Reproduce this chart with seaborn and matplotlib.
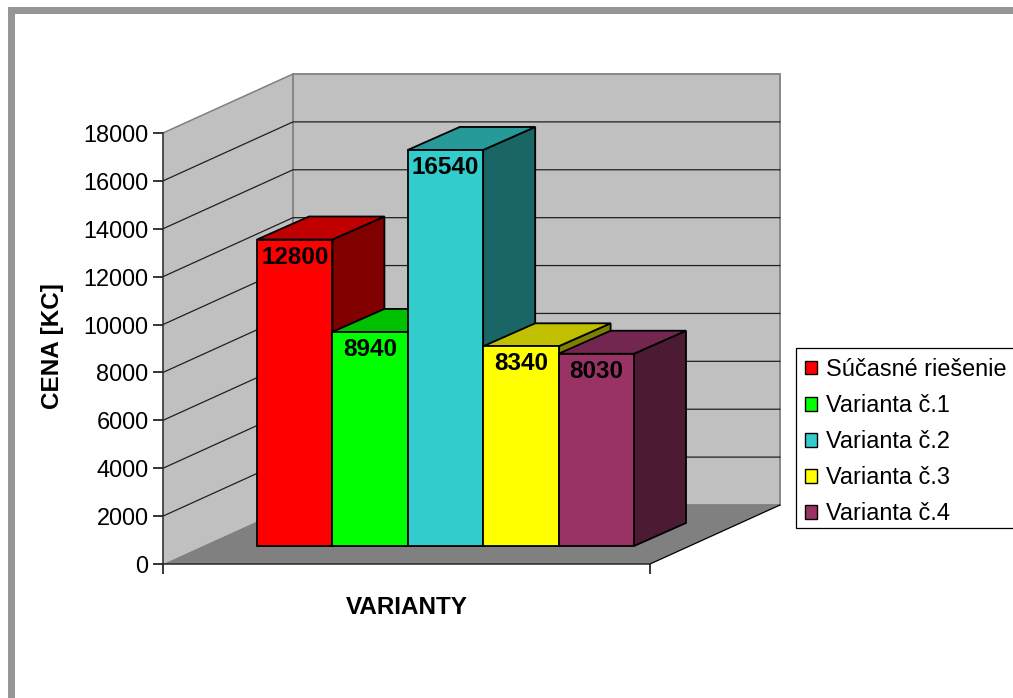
#!/usr/bin/env python3
"""Excel style 3D column chart of the price of each variant, drawn with seaborn."""

import matplotlib
matplotlib.use('Agg')  # Non-interactive backend
import matplotlib.pyplot as plt
from matplotlib.patches import Patch, Polygon, Rectangle
import seaborn as sns

# Data
CATEGORIES = ['Súčasné riešenie', 'Varianta č.1', 'Varianta č.2', 'Varianta č.3', 'Varianta č.4']
PRICES = [12800, 8940, 16540, 8340, 8030]
Y_TICKS = [0, 2000, 4000, 6000, 8000, 10000, 12000, 14000, 16000, 18000]

# Colours per bar: front, top, side
FRONT_COLORS = ['#FF0000', '#00FF00', '#33CCCC', '#FFFF00', '#993366']
TOP_COLORS = ['#C00000', '#00C000', '#269999', '#C0C000', '#732650']
SIDE_COLORS = ['#800000', '#008000', '#1A6666', '#808000', '#4D1A33']

# Layout, in pixels of the 1013x698 picture
W, H = 1013, 698
Y_MAX = 18000
PLANE_LEFT, PLANE_WIDTH, PLANE_BOTTOM, PLANE_HEIGHT = 163, 487, 564, 431
BARS_LEFT, BARS_WIDTH, BARS_BOTTOM = 257, 377, 546
WALL_DX, WALL_DY = 130, 59
BAR_DX, BAR_DY = 52, 23
LABEL_DROP = 17.5
FONT_SIZE = 16.9
BOLD_SIZE = 17.5

sns.set_theme(style='ticks')
plt.rcParams['font.family'] = ['Liberation Sans', 'DejaVu Sans']
plt.rcParams['axes.linewidth'] = 1.1
plt.rcParams['xtick.color'] = 'black'
plt.rcParams['ytick.color'] = 'black'


def draw_walls(ax):
    """Side wall, back wall and floor behind the bars."""
    dx = WALL_DX / PLANE_WIDTH
    dy = WALL_DY / PLANE_HEIGHT * Y_MAX

    ax.add_patch(Polygon([(0, 0), (dx, dy), (dx, Y_MAX + dy), (0, Y_MAX)],
                         facecolor='#C0C0C0', edgecolor='none', clip_on=False))
    ax.add_patch(Polygon([(dx, dy), (1 + dx, dy), (1 + dx, Y_MAX + dy), (dx, Y_MAX + dy)],
                         facecolor='#C0C0C0', edgecolor='#808080', linewidth=1.3, clip_on=False))

    for tick in Y_TICKS[1:-1]:
        ax.plot([0, dx, 1 + dx], [tick, tick + dy, tick + dy], color='#202020',
                linewidth=0.9, clip_on=False)
    ax.plot([0, dx], [Y_MAX, Y_MAX + dy], color='#808080', linewidth=1.1, clip_on=False)

    ax.add_patch(Polygon([(0, 0), (dx, dy), (1 + dx, dy), (1, 0)],
                         facecolor='#808080', edgecolor='none', clip_on=False))
    ax.plot([1, 1 + dx], [0, dy], color='black', linewidth=0.9, clip_on=False)


def draw_bars(ax):
    """Front faces through seaborn, then the top and side face of each bar."""
    sns.barplot(x=CATEGORIES, y=PRICES, hue=CATEGORIES, palette=FRONT_COLORS, width=1,
                saturation=1, dodge=False, legend=False, edgecolor='black', linewidth=1.3, ax=ax)
    ax.set_xlim(-0.5, len(CATEGORIES) - 0.5)
    ax.set_ylim(0, Y_MAX)
    ax.axis('off')

    dx = BAR_DX / (BARS_WIDTH / len(CATEGORIES))
    dy = BAR_DY / PLANE_HEIGHT * Y_MAX
    drop = LABEL_DROP / PLANE_HEIGHT * Y_MAX

    # Left to right, so each bar covers the side of the one before it
    for i, (price, container) in enumerate(zip(PRICES, ax.containers)):
        left, right = i - 0.5, i + 0.5
        side = Polygon([(right, 0), (right, price), (right + dx, price + dy), (right + dx, dy)],
                       facecolor=SIDE_COLORS[i], edgecolor='black', linewidth=1.3,
                       clip_on=False, zorder=3 * i + 2)
        top = Polygon([(left, price), (left + dx, price + dy), (right + dx, price + dy), (right, price)],
                      facecolor=TOP_COLORS[i], edgecolor='black', linewidth=1.3,
                      clip_on=False, zorder=3 * i + 3)
        ax.add_patch(side)
        ax.add_patch(top)
        for bar in container:
            bar.set_zorder(3 * i + 4)
            bar.set_clip_on(False)
        ax.text(i, price - drop, str(price), ha='center', va='center', color='black',
                fontsize=BOLD_SIZE, fontweight='bold', zorder=50)


def main():
    fig = plt.figure(figsize=(W / 100, H / 100), dpi=100, facecolor='white')

    # Gray frame of the sheet, open on the right and at the bottom
    fig.add_artist(Rectangle((8 / W, 0), 7 / W, 1 - 7 / H, transform=fig.transFigure,
                             facecolor='#969696', edgecolor='none'))
    fig.add_artist(Rectangle((8 / W, 1 - 14 / H), 1, 7 / H, transform=fig.transFigure,
                             facecolor='#969696', edgecolor='none'))

    ax_wall = fig.add_axes([PLANE_LEFT / W, 1 - PLANE_BOTTOM / H, PLANE_WIDTH / W, PLANE_HEIGHT / H])
    ax_wall.set_facecolor('none')
    ax_wall.set_xlim(0, 1)
    ax_wall.set_ylim(0, Y_MAX)
    draw_walls(ax_wall)
    sns.despine(ax=ax_wall)
    ax_wall.set_xticks([0, 1])
    ax_wall.set_xticklabels([])
    ax_wall.set_yticks(Y_TICKS)
    ax_wall.tick_params(axis='both', length=7, width=1.1, labelsize=FONT_SIZE, pad=3.5)
    ax_wall.set_ylabel('CENA [KC]', fontsize=BOLD_SIZE, fontweight='bold', color='black', labelpad=0)
    ax_wall.yaxis.set_label_coords((64 - PLANE_LEFT) / PLANE_WIDTH, 0.505)
    ax_wall.set_xlabel('VARIANTY', fontsize=BOLD_SIZE, fontweight='bold', color='black')
    ax_wall.xaxis.set_label_coords((407 - PLANE_LEFT) / PLANE_WIDTH, -(607 - PLANE_BOTTOM) / PLANE_HEIGHT)
    ax_wall.xaxis.label.set_verticalalignment('center')

    ax_bars = fig.add_axes([BARS_LEFT / W, 1 - BARS_BOTTOM / H, BARS_WIDTH / W, PLANE_HEIGHT / H])
    ax_bars.set_facecolor('none')
    draw_bars(ax_bars)

    # Legend box runs off the right edge of the picture
    fig.add_artist(Rectangle((796 / W, 1 - 528 / H), 1, 180 / H, transform=fig.transFigure,
                             facecolor='white', edgecolor='black', linewidth=0.9))
    handles = [Patch(facecolor=c, edgecolor='black', linewidth=1.0) for c in FRONT_COLORS]
    fig.legend(handles, CATEGORIES, loc='lower left', bbox_to_anchor=(805 / W, 1 - 525.5 / H),
               borderaxespad=0, fontsize=FONT_SIZE, frameon=False, handlelength=0.52, handleheight=0.52,
               handletextpad=0.38, labelspacing=0.56, borderpad=0, labelcolor='black')

    fig.savefig('out.png', dpi=100)
    plt.close(fig)


if __name__ == "__main__":
    main()
